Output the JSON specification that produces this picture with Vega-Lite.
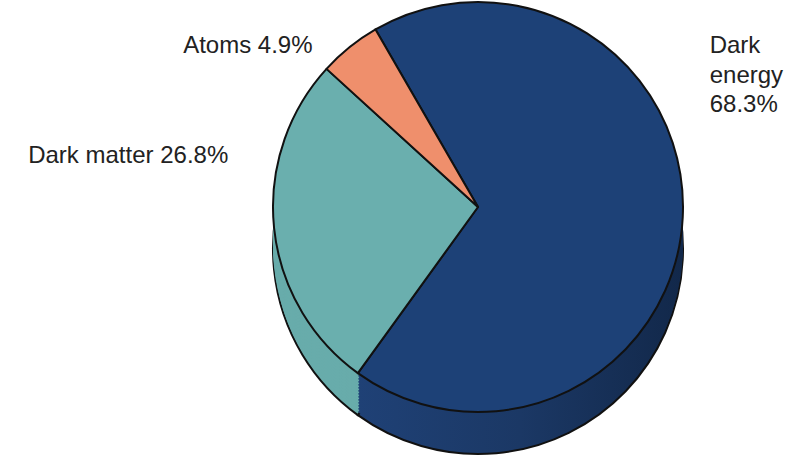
{
  "$schema": "https://vega.github.io/schema/vega-lite/v6.json",
  "width": 610,
  "height": 414,
  "padding": {"left": 173, "top": 0, "right": 5, "bottom": 42},
  "autosize": {"type": "none"},
  "background": "white",
  "config": {"view": {"stroke": null}, "font": "Liberation Sans"},
  "data": {
    "values": [
      {"component": "Dark energy", "share": 68.3, "label": "Dark\nenergy\n68.3%"},
      {"component": "Dark matter", "share": 26.8, "label": "Dark matter 26.8%"},
      {"component": "Atoms", "share": 4.9, "label": "Atoms 4.9%"}
    ]
  },
  "encoding": {
    "theta": {"field": "share", "type": "quantitative", "stack": true, "scale": {"range": [-0.5236, 5.7596]}},
    "order": {"field": "share", "sort": "descending"}
  },
  "layer": [
    {
      "mark": {"type": "arc", "outerRadius": 205, "yOffset": 42, "stroke": "#111", "strokeWidth": 2},
      "encoding": {
        "fill": {
          "condition": {"test": "datum.component === 'Dark energy'", "value": {"gradient": "linear", "x1": 0, "y1": 0, "x2": 1, "y2": 0, "stops": [{"offset": 0, "color": "#1f4176"}, {"offset": 0.5, "color": "#1b3865"}, {"offset": 1, "color": "#12284a"}]}},
          "field": "component", "type": "nominal", "legend": null,
          "scale": {"domain": ["Dark energy", "Dark matter", "Atoms"], "range": ["#1a3562", "#68acab", "#d9805f"]}
        }
      }
    },
    {"mark": {"type": "arc", "outerRadius": 205, "yOffset": 39}, "encoding": {"fill": {"condition": {"test": "datum.component === 'Dark energy'", "value": {"gradient": "linear", "x1": 0, "y1": 0, "x2": 1, "y2": 0, "stops": [{"offset": 0, "color": "#1f4176"}, {"offset": 0.5, "color": "#1b3865"}, {"offset": 1, "color": "#12284a"}]}}, "field": "component", "type": "nominal", "legend": null}}},
    {"mark": {"type": "arc", "outerRadius": 205, "yOffset": 36}, "encoding": {"fill": {"condition": {"test": "datum.component === 'Dark energy'", "value": {"gradient": "linear", "x1": 0, "y1": 0, "x2": 1, "y2": 0, "stops": [{"offset": 0, "color": "#1f4176"}, {"offset": 0.5, "color": "#1b3865"}, {"offset": 1, "color": "#12284a"}]}}, "field": "component", "type": "nominal", "legend": null}}},
    {"mark": {"type": "arc", "outerRadius": 205, "yOffset": 33}, "encoding": {"fill": {"condition": {"test": "datum.component === 'Dark energy'", "value": {"gradient": "linear", "x1": 0, "y1": 0, "x2": 1, "y2": 0, "stops": [{"offset": 0, "color": "#1f4176"}, {"offset": 0.5, "color": "#1b3865"}, {"offset": 1, "color": "#12284a"}]}}, "field": "component", "type": "nominal", "legend": null}}},
    {"mark": {"type": "arc", "outerRadius": 205, "yOffset": 30}, "encoding": {"fill": {"condition": {"test": "datum.component === 'Dark energy'", "value": {"gradient": "linear", "x1": 0, "y1": 0, "x2": 1, "y2": 0, "stops": [{"offset": 0, "color": "#1f4176"}, {"offset": 0.5, "color": "#1b3865"}, {"offset": 1, "color": "#12284a"}]}}, "field": "component", "type": "nominal", "legend": null}}},
    {"mark": {"type": "arc", "outerRadius": 205, "yOffset": 27}, "encoding": {"fill": {"condition": {"test": "datum.component === 'Dark energy'", "value": {"gradient": "linear", "x1": 0, "y1": 0, "x2": 1, "y2": 0, "stops": [{"offset": 0, "color": "#1f4176"}, {"offset": 0.5, "color": "#1b3865"}, {"offset": 1, "color": "#12284a"}]}}, "field": "component", "type": "nominal", "legend": null}}},
    {"mark": {"type": "arc", "outerRadius": 205, "yOffset": 24}, "encoding": {"fill": {"condition": {"test": "datum.component === 'Dark energy'", "value": {"gradient": "linear", "x1": 0, "y1": 0, "x2": 1, "y2": 0, "stops": [{"offset": 0, "color": "#1f4176"}, {"offset": 0.5, "color": "#1b3865"}, {"offset": 1, "color": "#12284a"}]}}, "field": "component", "type": "nominal", "legend": null}}},
    {"mark": {"type": "arc", "outerRadius": 205, "yOffset": 21}, "encoding": {"fill": {"condition": {"test": "datum.component === 'Dark energy'", "value": {"gradient": "linear", "x1": 0, "y1": 0, "x2": 1, "y2": 0, "stops": [{"offset": 0, "color": "#1f4176"}, {"offset": 0.5, "color": "#1b3865"}, {"offset": 1, "color": "#12284a"}]}}, "field": "component", "type": "nominal", "legend": null}}},
    {"mark": {"type": "arc", "outerRadius": 205, "yOffset": 18}, "encoding": {"fill": {"condition": {"test": "datum.component === 'Dark energy'", "value": {"gradient": "linear", "x1": 0, "y1": 0, "x2": 1, "y2": 0, "stops": [{"offset": 0, "color": "#1f4176"}, {"offset": 0.5, "color": "#1b3865"}, {"offset": 1, "color": "#12284a"}]}}, "field": "component", "type": "nominal", "legend": null}}},
    {"mark": {"type": "arc", "outerRadius": 205, "yOffset": 15}, "encoding": {"fill": {"condition": {"test": "datum.component === 'Dark energy'", "value": {"gradient": "linear", "x1": 0, "y1": 0, "x2": 1, "y2": 0, "stops": [{"offset": 0, "color": "#1f4176"}, {"offset": 0.5, "color": "#1b3865"}, {"offset": 1, "color": "#12284a"}]}}, "field": "component", "type": "nominal", "legend": null}}},
    {"mark": {"type": "arc", "outerRadius": 205, "yOffset": 12}, "encoding": {"fill": {"condition": {"test": "datum.component === 'Dark energy'", "value": {"gradient": "linear", "x1": 0, "y1": 0, "x2": 1, "y2": 0, "stops": [{"offset": 0, "color": "#1f4176"}, {"offset": 0.5, "color": "#1b3865"}, {"offset": 1, "color": "#12284a"}]}}, "field": "component", "type": "nominal", "legend": null}}},
    {"mark": {"type": "arc", "outerRadius": 205, "yOffset": 9}, "encoding": {"fill": {"condition": {"test": "datum.component === 'Dark energy'", "value": {"gradient": "linear", "x1": 0, "y1": 0, "x2": 1, "y2": 0, "stops": [{"offset": 0, "color": "#1f4176"}, {"offset": 0.5, "color": "#1b3865"}, {"offset": 1, "color": "#12284a"}]}}, "field": "component", "type": "nominal", "legend": null}}},
    {"mark": {"type": "arc", "outerRadius": 205, "yOffset": 6}, "encoding": {"fill": {"condition": {"test": "datum.component === 'Dark energy'", "value": {"gradient": "linear", "x1": 0, "y1": 0, "x2": 1, "y2": 0, "stops": [{"offset": 0, "color": "#1f4176"}, {"offset": 0.5, "color": "#1b3865"}, {"offset": 1, "color": "#12284a"}]}}, "field": "component", "type": "nominal", "legend": null}}},
    {"mark": {"type": "arc", "outerRadius": 205, "yOffset": 3}, "encoding": {"fill": {"condition": {"test": "datum.component === 'Dark energy'", "value": {"gradient": "linear", "x1": 0, "y1": 0, "x2": 1, "y2": 0, "stops": [{"offset": 0, "color": "#1f4176"}, {"offset": 0.5, "color": "#1b3865"}, {"offset": 1, "color": "#12284a"}]}}, "field": "component", "type": "nominal", "legend": null}}},
    {
      "mark": {"type": "arc", "outerRadius": 205, "stroke": "#111", "strokeWidth": 2, "strokeJoin": "round"},
      "encoding": {
        "color": {"field": "component", "type": "nominal", "legend": null,
          "scale": {"domain": ["Dark energy", "Dark matter", "Atoms"], "range": ["#1d4177", "#6aafae", "#ef8f6c"]}}
      }
    },
    {
      "mark": {"type": "text", "radius": 240, "align": "left", "baseline": "alphabetic", "dx": -8, "dy": -166, "fontSize": 24, "lineHeight": 29.5, "lineBreak": "\n", "color": "#222"},
      "encoding": {"text": {"condition": {"test": "datum.component === 'Dark energy'", "field": "label"}, "value": ""}}
    },
    {
      "mark": {"type": "text", "radius": 240, "align": "right", "baseline": "alphabetic", "dx": -11, "dy": -68.5, "fontSize": 24, "color": "#222"},
      "encoding": {"text": {"condition": {"test": "datum.component === 'Dark matter'", "field": "label"}, "value": ""}}
    },
    {
      "mark": {"type": "text", "radius": 240, "align": "right", "baseline": "alphabetic", "dx": -15, "dy": 33, "fontSize": 24, "color": "#222"},
      "encoding": {"text": {"condition": {"test": "datum.component === 'Atoms'", "field": "label"}, "value": ""}}
    }
  ]
}
